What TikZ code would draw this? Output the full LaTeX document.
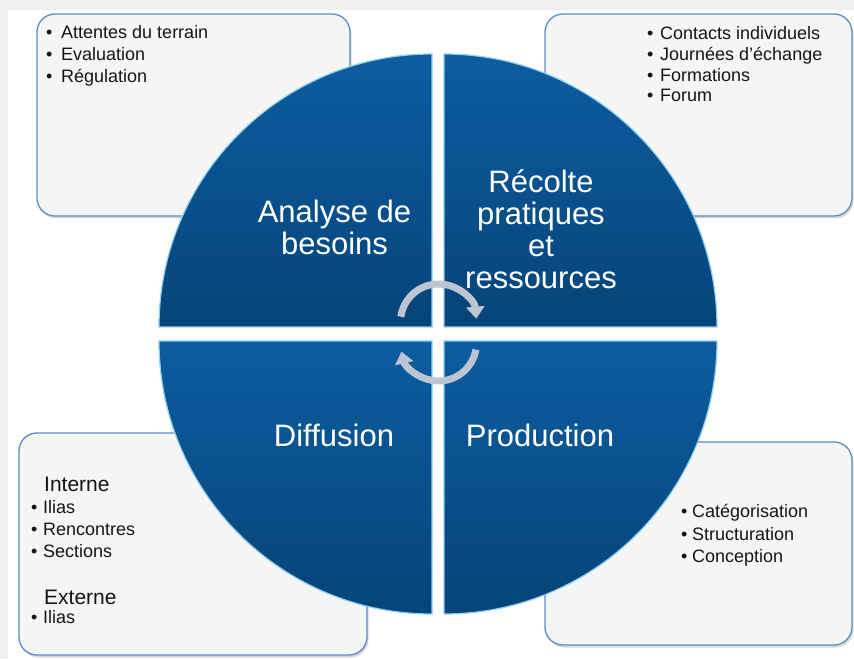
\documentclass[tikz,border=0pt]{standalone}
\usepackage{fontspec}
\setmainfont{Liberation Sans}
\usetikzlibrary{arrows.meta,shadows}
\definecolor{qtop}{HTML}{0C5DA0}
\definecolor{qbot}{HTML}{064479}
\definecolor{qedge}{HTML}{8FD0F2}
\definecolor{boxfill}{HTML}{F5F5F5}
\definecolor{boxline}{HTML}{5A8DC3}
\definecolor{txt}{HTML}{151515}
\definecolor{bggray}{HTML}{EFEFEF}
\definecolor{arrowc}{HTML}{BCC5D1}
\newcommand{\bul}[2]{\makebox[#1pt][l]{•}#2}
\begin{document}
\begin{tikzpicture}[x=1pt,y=1pt,
  infobox/.style={rounded corners=18pt, fill=boxfill, draw=boxline, line width=1.3pt,
    drop shadow={shadow xshift=1.5pt, shadow yshift=-2.5pt, opacity=0.3}},
  quad/.style={top color=qtop, bottom color=qbot, draw=qedge, line width=1.2pt},
  item/.style={anchor=base west, inner sep=0pt, text=txt, font=\fontsize{18}{22}\selectfont},
  head/.style={anchor=base west, inner sep=0pt, text=txt, font=\fontsize{21}{24}\selectfont},
  big/.style={text=white, font=\fontsize{31}{32}\selectfont, align=center, inner sep=0pt},
  cyc/.style={draw=arrowc, line width=7pt, -{Triangle[width=18pt,length=12pt]}}
]
\useasboundingbox (0,0) rectangle (854,659);
\fill[white] (0,0) rectangle (854,659);
\fill[bggray] (0,649) rectangle (854,659);
\fill[bggray] (0,0) rectangle (8,659);

% info boxes
\path[infobox] (37,443) rectangle (350,645);
\path[infobox] (545,443) rectangle (852,645);
\path[infobox] (19,4) rectangle (367,226);
\path[infobox] (545,14) rectangle (852,217);

% quadrants
\path[quad] (432,332) -- (159,332) arc[start angle=180, end angle=90, radius=273pt] -- cycle;
\path[quad] (444,332) -- (444,605) arc[start angle=90, end angle=0, radius=273pt] -- cycle;
\path[quad] (432,318) -- (432,45) arc[start angle=270, end angle=180, radius=273pt] -- cycle;
\path[quad] (444,318) -- (717,318) arc[start angle=0, end angle=-90, radius=273pt] -- cycle;

% cycle arrows
\draw[cyc] ([shift={(172:38pt)}]438.5,337) arc[start angle=172, end angle=5, radius=38pt];
\draw[cyc] ([shift={(-10:38pt)}]438.5,316) arc[start angle=-10, end angle=-167, radius=38pt];

% quadrant labels
\node[big] (analyse) at (334.5,432) {Analyse de\\besoins};
\node[big] (recolte) at (541,430) {Récolte\\pratiques\\et\\ressources};
\node[big, anchor=base] (diffusion) at (334,212) {Diffusion};
\node[big, anchor=base] (production) at (540,212) {Production};

% top-left list
\node[item] (tl1) at (46,620) {\bul{15}{Attentes du terrain}};
\node[item] (tl2) at (46,598) {\bul{15}{Evaluation}};
\node[item] (tl3) at (46,576) {\bul{15}{Régulation}};

% top-right list
\node[item] (tr1) at (647,619) {\bul{13}{Contacts individuels}};
\node[item] (tr2) at (647,598) {\bul{13}{Journées d’échange}};
\node[item] (tr3) at (647,577) {\bul{13}{Formations}};
\node[item] (tr4) at (647,557) {\bul{13}{Forum}};

% bottom-left list
\node[head] (bl0) at (44,167) {Interne};
\node[item] (bl1) at (31,146) {\bul{12}{Ilias}};
\node[item] (bl2) at (31,124) {\bul{12}{Rencontres}};
\node[item] (bl3) at (31,102) {\bul{12}{Sections}};
\node[head] (bl4) at (44,55) {Externe};
\node[item] (bl5) at (31,36) {\bul{12}{Ilias}};

% bottom-right list
\node[item] (br1) at (681,142) {\bul{11}{Catégorisation}};
\node[item] (br2) at (681,119) {\bul{11}{Structuration}};
\node[item] (br3) at (681,97) {\bul{11}{Conception}};
\end{tikzpicture}
\end{document}
